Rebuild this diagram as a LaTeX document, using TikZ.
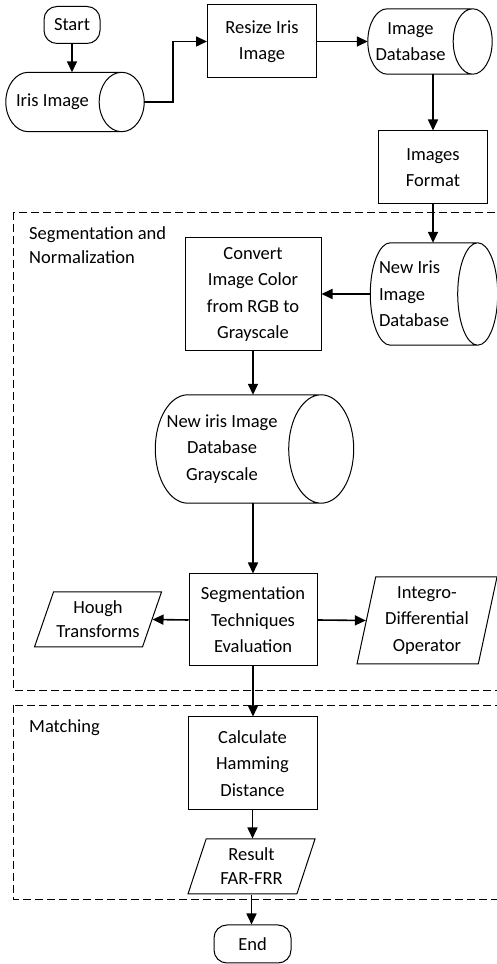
\documentclass[tikz,border=0pt]{standalone}
\usepackage{fontspec}
\setmainfont{Carlito}
\usetikzlibrary{calc,shapes.geometric,arrows.meta}
\newcommand\storeshape[2]{%
	\draw[line width=1pt] let \p1=(#1.north west), \p2=(#1.south east), \n1={(\y1-\y2)/2} in
		(\x1+#2pt,\y1)--(\x2+#2pt,\y1) arc[start angle=90,end angle=-270,x radius=#2pt,y radius=\n1]
		(\x2+#2pt,\y2)--(\x1+#2pt,\y2) arc[start angle=270,end angle=90,x radius=#2pt,y radius=\n1];}
\begin{document}
\begin{tikzpicture}[x=1pt,y=1pt,font=\fontsize{18.5}{26.5}\selectfont,
	box/.style={draw,line width=1pt,align=center,inner sep=2pt},
	terminal/.style={box,rounded corners=13pt},
	store/.style={rectangle,align=center,inner sep=0pt},
	io/.style={draw,line width=1pt,trapezium,trapezium stretches body,align=center,inner sep=1pt},
	arr/.style={line width=1.6pt,-{Stealth[length=11pt,width=10pt,inset=0pt]}},
	group/.style={line width=0.9pt,dash pattern=on 8pt off 4pt}]
	\useasboundingbox (0,0) rectangle (497,964);
	\draw[group](13,752) rectangle (502,274);
	\draw[group](13,259) rectangle (502,65);
	\node[anchor=north west,inner sep=0pt,align=left,font=\fontsize{18.5}{24}\selectfont](seglabel) at (29,738){Segmentation and\\Normalization};
	\node[anchor=base west,inner sep=0pt](matchlabel) at (29,231){Matching};
	\node[terminal,minimum width=56pt,minimum height=37pt](start) at (72,939){Start};
	\node[store,minimum width=93pt,minimum height=59pt](iris) at (52.5,862){Iris Image};
	\node[box,minimum width=109pt,minimum height=73pt](resize) at (262,922.5){Resize Iris\\Image};
	\node[store,minimum width=85pt,minimum height=65pt](imgdb) at (410.5,922.5){Image\\Database};
	\node[box,minimum width=109pt,minimum height=73pt](format) at (433,796.5){Images\\Format};
	\node[store,minimum width=87pt,minimum height=102pt,align=left](newdb) at (414,670){New Iris\\Image\\Database};
	\node[box,minimum width=136pt,minimum height=113pt](convert) at (253,669.5){Convert\\Image Color\\from RGB to\\Grayscale};
	\node[store,minimum width=133pt,minimum height=108pt](graydb) at (222,515){New iris Image\\Database\\Grayscale};
	\node[box,minimum width=128pt,minimum height=92pt](segtech) at (253,344){Segmentation\\Techniques\\Evaluation};
	\node[io,trapezium left angle=64,trapezium right angle=116,minimum width=127pt,minimum height=55pt,font=\fontsize{18.5}{24}\selectfont](hough) at (98,344.5){Hough\\Transforms};
	\node[io,trapezium left angle=75,trapezium right angle=105,minimum width=140pt,minimum height=87pt](integro) at (427,343.5){Integro-\\Differential\\Operator};
	\node[box,minimum width=129pt,minimum height=93pt](calc) at (252.5,200.5){Calculate\\Hamming\\Distance};
	\node[io,trapezium left angle=65,trapezium right angle=115,minimum width=127pt,minimum height=55pt,font=\fontsize{18.5}{24}\selectfont](result) at (251.5,97.5){Result\\FAR-FRR};
	\node[terminal,minimum width=77pt,minimum height=38pt](end) at (252.5,20){End};
	\storeshape{iris}{22.5}
	\storeshape{imgdb}{19.5}
	\storeshape{newdb}{20}
	\storeshape{graydb}{32.5}
	\draw[arr](start.south)--(start.south |- iris.north);
	\draw[arr]([xshift=45pt]iris.east)--++(29,0)|-(resize.west);
	\draw[arr](resize.east)--(resize.east -| imgdb.west);
	\draw[arr](format.north |- imgdb.south)--(format.north);
	\draw[arr](format.south)--(format.south |- newdb.north);
	\draw[arr](newdb.west)--(newdb.west -| convert.east);
	\draw[arr](convert.south)--(convert.south |- graydb.north);
	\draw[arr](segtech.north |- graydb.south)--(segtech.north);
	\draw[arr](segtech.west)--(hough.east);
	\draw[arr](segtech.east)--(integro.west);
	\draw[arr](segtech.south)--(segtech.south |- calc.north);
	\draw[arr](calc.south)--(calc.south |- result.north);
	\draw[arr](result.south)--(result.south |- end.north);
\end{tikzpicture}
\end{document}
